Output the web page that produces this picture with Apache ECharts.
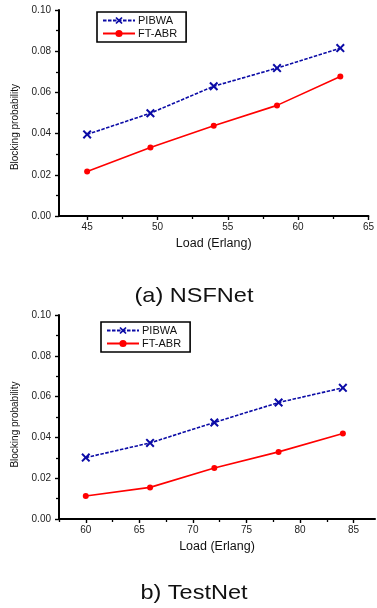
<!DOCTYPE html>
<html>
<head>
<meta charset="utf-8">
<script src="https://cdn.jsdelivr.net/npm/echarts@6/dist/echarts.min.js"></script>
<style>
  html, body { margin: 0; padding: 0; background: #fff; }
  #chart { width: 377px; height: 608px; }
</style>
</head>
<body>
<div id="chart"></div>
<script>
// (a) NSFNet
const loadNsf = [45, 49.5, 54, 58.5, 63];
const pibwaNsf = [0.0396, 0.0499, 0.063, 0.0718, 0.0815];
const ftabrNsf = [0.0216, 0.0333, 0.0438, 0.0537, 0.0677];
const xTicksNsf = [45, 50, 55, 60, 65];
const xMinorNsf = [47.5, 52.5, 57.5, 62.5];

// b) TestNet
const loadTest = [60, 66, 72, 78, 84];
const pibwaTest = [0.0301, 0.0373, 0.0473, 0.0571, 0.0643];
const ftabrTest = [0.0113, 0.0155, 0.025, 0.0329, 0.0419];
const xTicksTest = [60, 65, 70, 75, 80, 85];
const xMinorTest = [57.5, 62.5, 67.5, 72.5, 77.5, 82.5];

const seriesNames = ['PIBWA', 'FT-ABR'];
const captions = ['(a) NSFNet', 'b) TestNet'];

const FONT = '"Liberation Sans", Arial, sans-serif';
const BLUE = '#0b0ba6';
const RED = '#ff0000';
// thick "x" marker
const CROSS = 'path://M0,1.6 L1.6,0 L5,3.4 L8.4,0 L10,1.6 L6.6,5 L10,8.4 L8.4,10 L5,6.6 L1.6,10 L0,8.4 L3.4,5 Z';

const chart = echarts.init(document.getElementById('chart'), null, { renderer: 'canvas' });

function zip(xs, ys) {
  return xs.map((x, i) => [x, ys[i]]);
}

function majorX(gridIndex, min, max, ticks) {
  return {
    type: 'value', gridIndex, min, max, position: 'bottom',
    name: 'Load (Erlang)', nameLocation: 'middle', nameGap: 21,
    nameTextStyle: { fontFamily: FONT, fontSize: 12.5, color: '#111' },
    axisLine: { show: true, onZero: false, lineStyle: { color: '#000', width: 2 } },
    axisTick: { show: true, customValues: ticks, length: 4, lineStyle: { color: '#000', width: 1.4 } },
    axisLabel: { customValues: ticks, margin: 6, fontFamily: FONT, fontSize: 10, color: '#222' },
    splitLine: { show: false }
  };
}

function minorX(gridIndex, min, max, ticks) {
  return {
    type: 'value', gridIndex, min, max, position: 'bottom',
    axisLine: { show: false },
    axisTick: { show: true, customValues: ticks, length: 3, lineStyle: { color: '#000', width: 1.3 } },
    axisLabel: { show: false },
    splitLine: { show: false }
  };
}

function yAxis(gridIndex, shift) {
  return {
    type: 'value', gridIndex, min: 0, max: 0.1, interval: 0.02,
    name: 'Blocking probability', nameLocation: 'middle', nameGap: 38,
    nameTextStyle: { fontFamily: FONT, fontSize: 10, color: '#111', padding: [0, shift, 0, 0] },
    axisLine: { show: true, onZero: false, lineStyle: { color: '#000', width: 2 } },
    axisTick: { show: true, length: 4, lineStyle: { color: '#000', width: 1.4 } },
    minorTick: { show: true, splitNumber: 2, length: 3, lineStyle: { color: '#000', width: 1.3 } },
    axisLabel: { margin: 8, fontFamily: FONT, fontSize: 10, color: '#222', formatter: v => v.toFixed(2) },
    splitLine: { show: false },
    minorSplitLine: { show: false }
  };
}

function pibwa(xi, yi, data) {
  return {
    name: seriesNames[0], type: 'line', xAxisIndex: xi, yAxisIndex: yi, data,
    symbol: CROSS, symbolSize: 9, showAllSymbol: true,
    lineStyle: { color: BLUE, width: 1.6, type: [3.5, 1.5] },
    itemStyle: { color: BLUE },
    animation: false
  };
}

function ftabr(xi, yi, data) {
  return {
    name: seriesNames[1], type: 'line', xAxisIndex: xi, yAxisIndex: yi, data,
    symbol: 'circle', symbolSize: 6, showAllSymbol: true,
    lineStyle: { color: RED, width: 1.6 },
    itemStyle: { color: RED },
    animation: false
  };
}

function legend(left, top) {
  return {
    data: seriesNames, orient: 'vertical', left, top,
    borderColor: '#000', borderWidth: 1.6, padding: [3, 9, 3, 5],
    itemWidth: 32, itemHeight: 9, itemGap: 2,
    textStyle: { fontFamily: FONT, fontSize: 11, color: '#111', padding: [0, 0, 0, -2] },
    selectedMode: false
  };
}

const option = {
  backgroundColor: '#fff',
  animation: false,
  grid: [
    { left: 59, top: 10, right: 2, height: 206 },
    { left: 59, top: 315, right: 2, height: 204 }
  ],
  legend: [legend(97, 12), legend(101, 322)],
  xAxis: [
    majorX(0, 43, 65, xTicksNsf),
    minorX(0, 43, 65, xMinorNsf),
    majorX(1, 57.5, 87, xTicksTest),
    minorX(1, 57.5, 87, xMinorTest)
  ],
  yAxis: [yAxis(0, 28), yAxis(1, 15)],
  series: [
    pibwa(0, 0, zip(loadNsf, pibwaNsf)),
    ftabr(0, 0, zip(loadNsf, ftabrNsf)),
    pibwa(2, 1, zip(loadTest, pibwaTest)),
    ftabr(2, 1, zip(loadTest, ftabrTest))
  ],
  graphic: [
    {
      type: 'text', x: 194, y: 296, scaleX: 1.12,
      style: { text: captions[0], font: '21px ' + FONT, fill: '#111', textAlign: 'center', textVerticalAlign: 'middle' }
    },
    {
      type: 'text', x: 194, y: 593, scaleX: 1.12,
      style: { text: captions[1], font: '21px ' + FONT, fill: '#111', textAlign: 'center', textVerticalAlign: 'middle' }
    }
  ]
};

chart.setOption(option);
</script>
</body>
</html>
